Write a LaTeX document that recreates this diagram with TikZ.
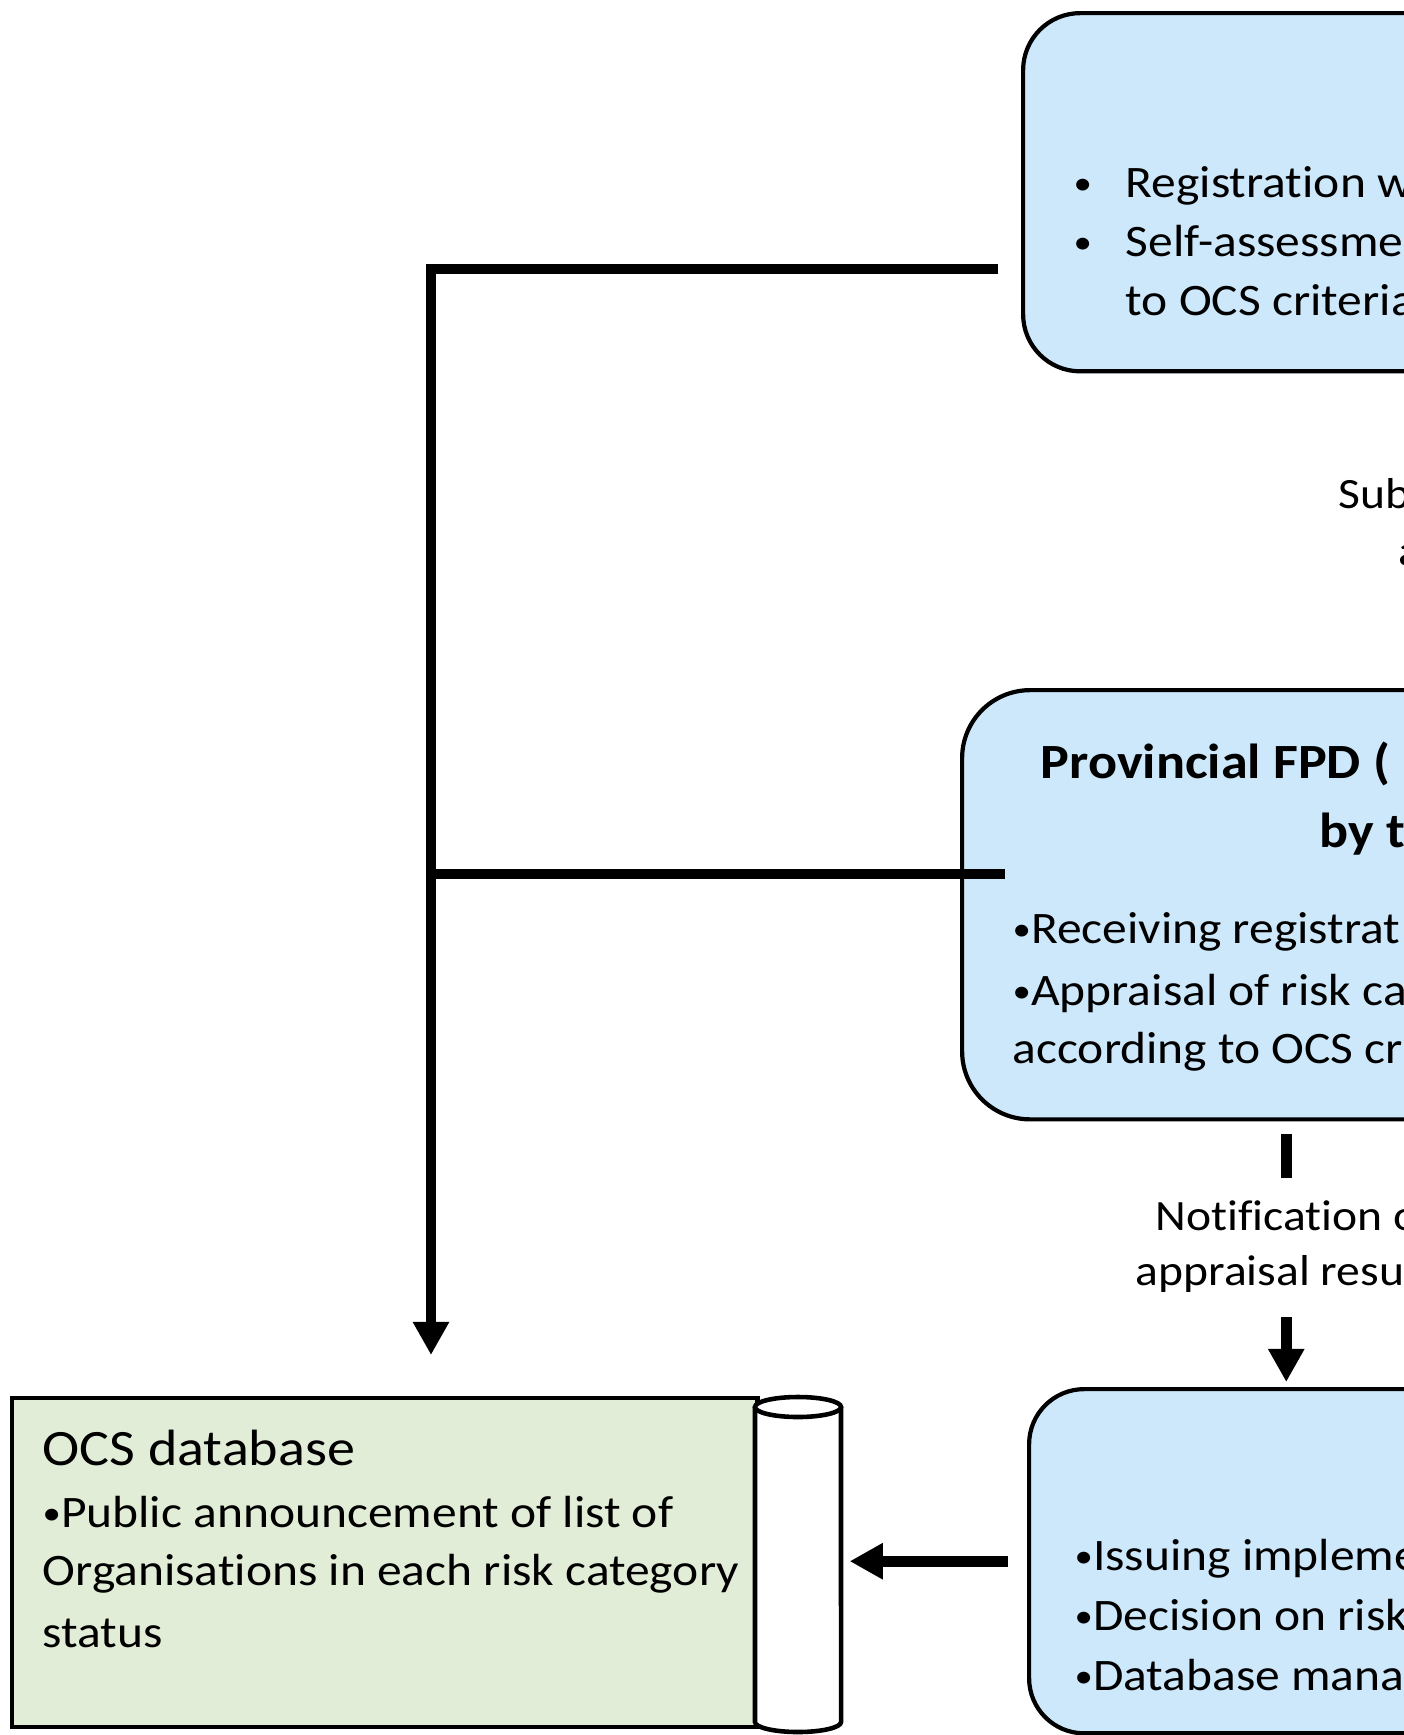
\documentclass[tikz,border=0pt]{standalone}
\usepackage{fontspec}
\setmainfont{Carlito}[FakeStretch=1.1, Ligatures=NoCommon]
\usetikzlibrary{arrows.meta}

\definecolor{stageblue}{RGB}{205,232,251}
\definecolor{dbgreen}{RGB}{225,237,215}
\newcommand{\dotmark}{\raisebox{0.7pt}{\fontsize{9.5}{10}\selectfont•}}

\begin{document}
\begin{tikzpicture}[x=0.01cm, y=-0.01cm,
    stage/.style={draw, line width=1.2pt, fill=stageblue, anchor=north west, inner sep=0pt},
    store/.style={draw, line width=1.2pt, fill=dbgreen, anchor=north west, inner sep=0pt},
    txt/.style={anchor=base west, inner sep=0pt, font=\fontsize{12.8}{17}\selectfont},
    lbltxt/.style={txt, font=\fontsize{12.3}{16}\selectfont},
    headtxt/.style={txt, font=\fontsize{14}{19}\selectfont\bfseries},
    dbtxt/.style={txt, font=\fontsize{14.5}{19}\selectfont},
    trunk/.style={line width=3pt},
    flow/.style={trunk, -{Triangle[width=9.7pt,length=9.4pt]}}]
    \useasboundingbox (0,0) rectangle (1404,1735);
    \clip (0,0) rectangle (1404,1735);

    % stage boxes
    \node[stage, rounded corners=5.7mm, minimum width=80mm, minimum height=35.8mm] (reg) at (1021,11) {};
    \node[stage, rounded corners=6.8mm, minimum width=64.8mm, minimum height=42.9mm] (prov) at (960,688) {};
    \node[stage, rounded corners=5.5mm, minimum width=51.4mm, minimum height=34.4mm] (mgmt) at (1027,1387) {};

    % database with roll
    \node[store, minimum width=74.5mm, minimum height=32.9mm] (db) at (10,1396) {};
    \filldraw[fill=white, line width=1.3pt] (755,1407) -- (755,1722)
        arc[start angle=180, end angle=360, x radius=4.3mm, y radius=1mm] -- (841,1407);
    \filldraw[fill=white, line width=1.3pt] (798,1407) ellipse [x radius=4.3mm, y radius=1mm];
    \coordinate (rollEdge) at ([xshift=9mm]db.east);

    % texts
    \node[txt] (regB1) at (1073,197) {\dotmark};
    \node[txt] (regL1) at (1125,197) {Registration w};
    \node[txt] (regB2) at (1073,256) {\dotmark};
    \node[txt] (regL2) at (1125,256) {Self-assessme};
    \node[txt] (regL3) at (1125,315) {to OCS criteria};

    \node[lbltxt] (subL1) at (1338,508) {Sub};
    \node[lbltxt] (subL2) at (1398,565) {a};

    \node[headtxt] (provT1) at (1040,778) {Provincial FPD (};
    \node[headtxt] (provT2) at (1319,847) {by t};
    \node[txt] (provL1) at (1012,943) {\dotmark Receiving registrat};
    \node[txt] (provL2) at (1012,1005) {\dotmark Appraisal of risk ca};
    \node[txt] (provL3) at (1012,1063) {according to OCS cr};

    \node[lbltxt] (notL1) at (1155,1230) {Notification o};
    \node[lbltxt] (notL2) at (1135,1285) {appraisal resul};

    \node[txt] (mgmtL1) at (1074,1570) {\dotmark Issuing impleme};
    \node[txt] (mgmtL2) at (1074,1630) {\dotmark Decision on risk};
    \node[txt] (mgmtL3) at (1074,1690) {\dotmark Database mana};

    \node[dbtxt] (dbT) at (42,1465) {OCS database};
    \node[txt] (dbL1) at (42,1527) {\dotmark Public announcement of list of};
    \node[txt] (dbL2) at (42,1585) {Organisations in each risk category};
    \node[txt] (dbL3) at (42,1647) {status};

    % connectors
    \coordinate (regOut) at (998,269);
    \coordinate (provOut) at (1005,874);
    \coordinate (dbIn) at (431,1355);
    \draw[flow] (regOut) -| (dbIn);
    \draw[trunk] (provOut) -- (provOut -| dbIn);

    \draw[trunk] ([yshift=-1.3mm]prov.south) -- ([yshift=-5.6mm]prov.south);
    \draw[flow] ([yshift=7mm]mgmt.north) -- ([yshift=0.5mm]mgmt.north);

    \coordinate (dbTip) at (mgmt.west -| rollEdge);
    \draw[flow] ([xshift=-1.9mm]mgmt.west) -- (dbTip);
\end{tikzpicture}
\end{document}
